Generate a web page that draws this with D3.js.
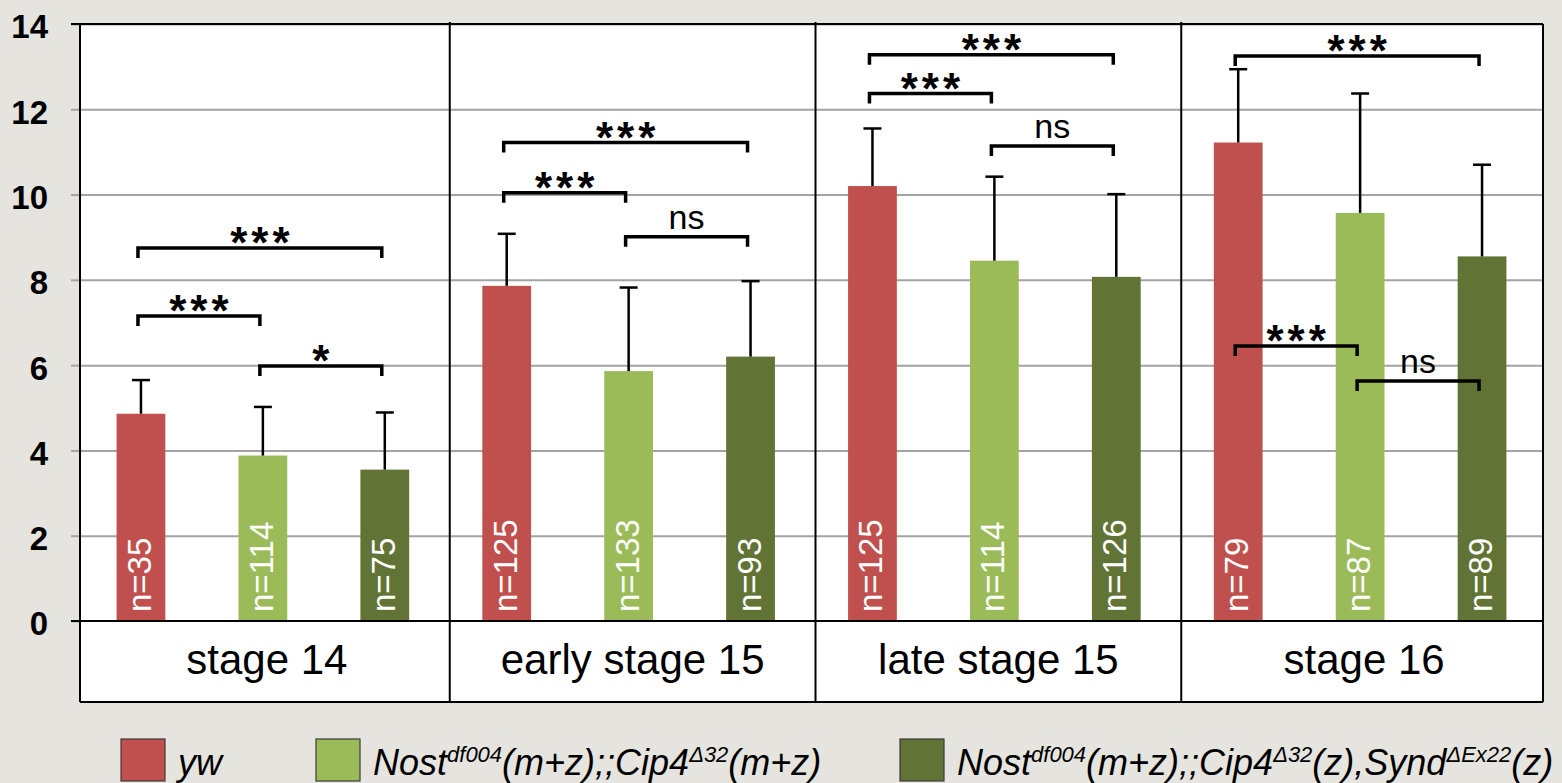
<!DOCTYPE html>
<html>
<head>
<meta charset="utf-8">
<script src="https://cdn.jsdelivr.net/npm/d3@7"></script>
<style>
  html, body { margin: 0; padding: 0; background: #e5e4de; }
  svg { display: block; font-family: "Liberation Sans", Arial, Helvetica, sans-serif; }
</style>
</head>
<body>
<div id="chart"></div>
<script>
// stage groups and genotypes
const stages = ["stage 14", "early stage 15", "late stage 15", "stage 16"];
const genotypes = ["yw", "cip4", "synd"];
const colors = ["#c0504d", "#9bbb59", "#617435"];

// mean values per stage (yw, Nost;;Cip4, Nost;;Cip4,Synd)
const meanValues = [
  [4.86, 3.88, 3.55],
  [7.86, 5.86, 6.20],
  [10.20, 8.45, 8.07],
  [11.22, 9.57, 8.55]
];
// upper error (sd)
const errValues = [
  [0.79, 1.14, 1.34],
  [1.22, 1.96, 1.77],
  [1.35, 1.97, 1.94],
  [1.72, 2.80, 2.15]
];
const sampleSizes = [
  [35, 114, 75],
  [125, 133, 93],
  [125, 114, 126],
  [79, 87, 89]
];
// significance brackets: [stage, from, to, level, label]
const brackets = [
  [0, 0, 1, 7.15, "***"], [0, 0, 2, 8.75, "***"], [0, 1, 2, 5.98, "*"],
  [1, 0, 1, 10.04, "***"], [1, 0, 2, 11.22, "***"], [1, 1, 2, 9.01, "ns"],
  [2, 0, 1, 12.37, "***"], [2, 0, 2, 13.28, "***"], [2, 1, 2, 11.14, "ns"],
  [3, 0, 1, 6.45, "***"], [3, 0, 2, 13.25, "***"], [3, 1, 2, 5.63, "ns"]
];
const yTicks = [0, 2, 4, 6, 8, 10, 12, 14];

// legend labels, [text, superscript]
const legendLabels = [
  [["yw", 0]],
  [["Nost", 0], ["df004", 1], ["(m+z);;Cip4", 0], ["\u039432", 1], ["(m+z)", 0]],
  [["Nost", 0], ["df004", 1], ["(m+z);;Cip4", 0], ["\u039432", 1], ["(z),Synd", 0], ["\u0394Ex22", 1], ["(z)", 0]]
];

const width = 1562, height = 783;
const plotLeft = 80, plotRight = 1543, plotTop = 24, zeroY = 621, boxBottom = 702;

const svg = d3.select("#chart").append("svg")
  .attr("width", width)
  .attr("height", height);

const y = d3.scaleLinear().domain([0, 14]).range([zeroY, plotTop]);
const x0 = d3.scaleBand().domain(stages).range([plotLeft, plotRight]);
const x1 = d3.scaleBand().domain(d3.range(genotypes.length))
  .range([0, x0.bandwidth()])
  .paddingInner(0.6).paddingOuter(0.3);

const barCenter = (s, g) => x0(stages[s]) + x1(g) + x1.bandwidth() / 2;

// white plot + category box
svg.append("rect")
  .attr("x", plotLeft).attr("y", plotTop)
  .attr("width", plotRight - plotLeft).attr("height", boxBottom - plotTop)
  .attr("fill", "#fff");

// gridlines
svg.append("g")
  .attr("transform", `translate(${plotLeft},0)`)
  .call(d3.axisLeft(y).tickValues(yTicks.slice(1)).tickSize(-(plotRight - plotLeft)).tickFormat(() => ""))
  .call(g => g.select(".domain").remove())
  .call(g => g.selectAll("line").attr("stroke", "#a3a3a3").attr("stroke-width", 2));

// y axis
svg.append("g")
  .attr("transform", `translate(${plotLeft},0)`)
  .call(d3.axisLeft(y).tickValues(yTicks).tickSize(9).tickPadding(23))
  .call(g => g.select(".domain").remove())
  .call(g => g.selectAll("line").attr("stroke", "#a3a3a3").attr("stroke-width", 2))
  .call(g => g.selectAll("text")
    .attr("fill", "#000")
    .attr("font-size", 33)
    .attr("font-weight", "bold")
    .attr("font-family", "Liberation Sans, Arial, sans-serif")
    .attr("dy", "0.42em"));

// bars
const groups = svg.append("g").selectAll("g")
  .data(stages)
  .join("g");

groups.selectAll("rect")
  .data((s, i) => meanValues[i].map((v, g) => ({ s: i, g, v })))
  .join("rect")
  .attr("x", d => x0(stages[d.s]) + x1(d.g))
  .attr("y", d => y(d.v))
  .attr("width", x1.bandwidth())
  .attr("height", d => zeroY - y(d.v))
  .attr("fill", d => colors[d.g]);

// error bars
const errs = svg.append("g").attr("stroke", "#000").attr("stroke-width", 2.5);
stages.forEach((s, i) => {
  meanValues[i].forEach((v, g) => {
    const cx = barCenter(i, g);
    const yt = y(v + errValues[i][g]);
    errs.append("line").attr("x1", cx).attr("x2", cx).attr("y1", y(v)).attr("y2", yt);
    errs.append("line").attr("x1", cx - 9).attr("x2", cx + 9).attr("y1", yt).attr("y2", yt);
  });
});

// n labels
stages.forEach((s, i) => {
  sampleSizes[i].forEach((n, g) => {
    const cx = barCenter(i, g) + 10;
    svg.append("text")
      .attr("transform", `translate(${cx},${zeroY - 9}) rotate(-90)`)
      .attr("fill", "#fff")
      .attr("font-size", 33)
      .text("n=" + n);
  });
});

// significance brackets
const br = svg.append("g");
brackets.forEach(([s, a, b, lvl, label]) => {
  const xa = barCenter(s, a) - 3, xb = barCenter(s, b) - 3, yy = y(lvl);
  br.append("path")
    .attr("d", `M${xa},${yy + 10}V${yy}H${xb}V${yy + 10}`)
    .attr("fill", "none")
    .attr("stroke", "#000")
    .attr("stroke-width", 3.5);
  const star = label !== "ns";
  const ls = star ? 4 : 0;
  br.append("text")
    .attr("x", (xa + xb) / 2 + ls / 2)
    .attr("y", star ? yy + 10 : yy - 8)
    .attr("text-anchor", "middle")
    .attr("font-size", star ? 44 : 34)
    .attr("font-weight", star ? "bold" : "normal")
    .attr("letter-spacing", ls)
    .text(label);
});

// frame, category separators
const frame = svg.append("g").attr("stroke", "#000").attr("stroke-width", 2).attr("fill", "none");
frame.append("line").attr("x1", plotLeft - 9).attr("x2", plotRight).attr("y1", plotTop).attr("y2", plotTop);
frame.append("line").attr("x1", plotLeft - 9).attr("x2", plotRight).attr("y1", zeroY).attr("y2", zeroY);
frame.append("line").attr("x1", plotLeft).attr("x2", plotRight).attr("y1", boxBottom).attr("y2", boxBottom);
frame.append("line").attr("x1", plotLeft).attr("x2", plotLeft).attr("y1", plotTop).attr("y2", boxBottom);
frame.append("line").attr("x1", plotRight).attr("x2", plotRight).attr("y1", plotTop).attr("y2", boxBottom);
stages.slice(1).forEach(s => {
  const xd = x0(s) + 4;
  frame.append("line").attr("x1", xd).attr("x2", xd).attr("y1", plotTop - 2).attr("y2", boxBottom);
});

// stage labels
svg.append("g").selectAll("text")
  .data(stages)
  .join("text")
  .attr("x", (d, i) => x0(d) + x0.bandwidth() / 2 + 4)
  .attr("y", 674)
  .attr("text-anchor", "middle")
  .attr("font-size", 42)
  .text(d => d);

// legend
const legendX = [121, 316, 900];
const legend = svg.append("g");
legendLabels.forEach((parts, i) => {
  legend.append("rect")
    .attr("x", legendX[i]).attr("y", 739)
    .attr("width", 44).attr("height", 42)
    .attr("fill", colors[i])
    .attr("stroke", "#3a3a3a").attr("stroke-width", 1.2);
  const t = legend.append("text")
    .attr("x", legendX[i] + 57).attr("y", 775)
    .attr("font-size", 36)
    .attr("font-style", "italic");
  let sup = false;
  parts.forEach(([txt, isSup]) => {
    const ts = t.append("tspan").text(txt);
    if (isSup && !sup) ts.attr("dy", -13).attr("font-size", 22);
    else if (isSup) ts.attr("font-size", 22);
    else if (sup) ts.attr("dy", 13);
    sup = !!isSup;
  });
});
</script>
</body>
</html>
